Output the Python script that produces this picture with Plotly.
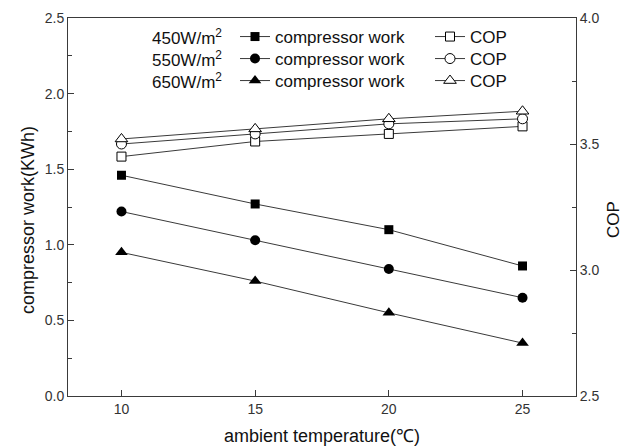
import plotly.graph_objects as go

# Ambient temperature (°C)
temperature = [10, 15, 20, 25]

# Solar irradiance levels
irradiance_labels = ["450W/m<sup>2</sup>", "550W/m<sup>2</sup>", "650W/m<sup>2</sup>"]

# Compressor work (KWh) for each irradiance level
work_450 = [1.46, 1.27, 1.10, 0.86]
work_550 = [1.22, 1.03, 0.84, 0.65]
work_650 = [0.95, 0.76, 0.55, 0.35]

# Coefficient of performance for each irradiance level
cop_450 = [3.45, 3.51, 3.54, 3.57]
cop_550 = [3.50, 3.54, 3.58, 3.60]
cop_650 = [3.52, 3.56, 3.60, 3.63]

FONT = "Liberation Sans, Arial, sans-serif"
LINE = "#3a3a3a"
INK = "#111111"

series = [
    (work_450, cop_450, "square", 9, "legend"),
    (work_550, cop_550, "circle", 10, "legend2"),
    (work_650, cop_650, "triangle-up", 11, "legend3"),
]

fig = go.Figure()
for work, cop, sym, size, leg in series:
    fig.add_trace(go.Scatter(
        x=temperature, y=work, mode="lines+markers", name="compressor work",
        line=dict(color=LINE, width=1),
        marker=dict(symbol=sym, size=size, color="black", line=dict(width=0)),
        legend=leg, yaxis="y",
    ))
    fig.add_trace(go.Scatter(
        x=temperature, y=cop, mode="lines+markers", name="COP",
        line=dict(color=LINE, width=1),
        marker=dict(symbol=sym, size=size, color="white", line=dict(width=1, color="black")),
        legend=leg, yaxis="y2",
    ))

# Plot area in pixels
L, R, T, B = 68, 576, 18, 396
def px_x(v):
    return (v - L) / (R - L)
def px_y(v):
    return (B - v) / (B - T)

row_y = [37, 59, 81]
legend_common = dict(
    orientation="h", xanchor="left", yanchor="middle",
    bgcolor="rgba(0,0,0,0)", borderwidth=0,
    font=dict(family=FONT, size=17, color=INK),
    entrywidth=150, entrywidthmode="pixels", itemwidth=30,
)
legends = {}
for name, ry in zip(["legend", "legend2", "legend3"], row_y):
    legends[name] = dict(legend_common, x=px_x(235), y=px_y(ry))

annotations = [
    dict(text=lab, x=px_x(224), y=px_y(ry), xref="paper", yref="paper",
         xanchor="right", yanchor="middle", showarrow=False,
         font=dict(family=FONT, size=17, color=INK))
    for lab, ry in zip(irradiance_labels, row_y)
]

title_font = dict(family=FONT, size=18, color=INK)
# Vertical axis titles
annotations += [
    dict(text="compressor work(KWh)", x=px_x(28), y=px_y(220), xref="paper", yref="paper",
         xanchor="center", yanchor="middle", textangle=-90, showarrow=False, font=title_font),
    dict(text="COP", x=px_x(613), y=px_y(220), xref="paper", yref="paper",
         xanchor="center", yanchor="middle", textangle=-90, showarrow=False, borderpad=0,
         font=dict(family=FONT, size=17, color=INK)),
]

axis_common = dict(
    showline=True, linecolor=LINE, linewidth=1, showgrid=False, zeroline=False,
    ticks="inside", ticklen=6, tickcolor=LINE, automargin=False,
    tickfont=dict(family=FONT, size=14, color="#333333"),
)

fig.update_layout(
    width=625, height=447,
    margin=dict(l=L, r=625 - R, t=T, b=447 - B, pad=0, autoexpand=False),
    paper_bgcolor="white", plot_bgcolor="white",
    font=dict(family=FONT, color=INK),
    showlegend=True,
    xaxis=dict(axis_common, range=[8, 27], tickvals=temperature, mirror=True,
               title=dict(text="ambient temperature(℃)", font=title_font, standoff=13)),
    yaxis=dict(axis_common, range=[0, 2.5], dtick=0.5, tick0=0, tickformat=".1f", mirror=True,
               minor=dict(ticks="inside", ticklen=4, dtick=0.25, tickcolor=LINE)),
    yaxis2=dict(axis_common, range=[2.5, 4.0], dtick=0.5, tick0=2.5, tickformat=".1f",
                overlaying="y", side="right",
                minor=dict(ticks="inside", ticklen=4, dtick=0.25, tickcolor=LINE)),
    annotations=annotations,
    **legends,
)

fig.write_html("out.html")
